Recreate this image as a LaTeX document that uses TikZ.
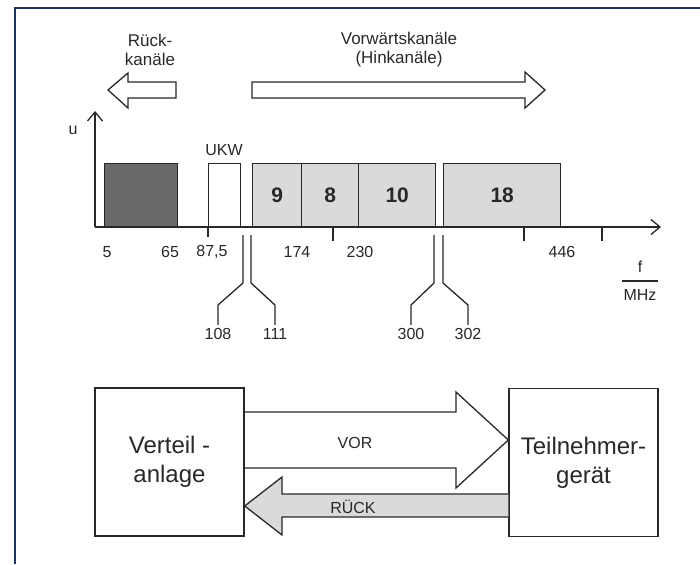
\documentclass[tikz,border=0pt]{standalone}
\usepackage{fontspec}
\setmainfont{Liberation Sans}
\definecolor{rkframe}{RGB}{28,48,105}
\definecolor{rkline}{RGB}{40,40,40}
\definecolor{rkdark}{RGB}{105,105,105}
\definecolor{rklight}{RGB}{218,218,218}
\usetikzlibrary{arrows.meta,positioning,calc}

\begin{document}
\begin{tikzpicture}[x=1pt,y=-1pt,
  every node/.style={text=rkline},
  band/.style={draw=rkline,line width=1.4pt,fill=rklight,minimum height=63pt,anchor=south west,inner sep=0pt,font=\fontsize{21}{24}\selectfont\bfseries},
  num/.style={font=\fontsize{16}{18}\selectfont},
  lead/.style={draw=rkline,line width=1.3pt},
  axis/.style={draw=rkline,line width=1.3pt,-{Straight Barb[length=9pt,width=15pt]}},
  fat/.style={draw=rkline,line width=1.3pt,line join=miter},
  box/.style={draw=rkline,line width=1.4pt,minimum width=149pt,minimum height=148pt,align=center,font=\fontsize{24}{29}\selectfont}]
  \useasboundingbox (0,0) rectangle (700,564);
  \draw[rkframe,line width=1.6pt] (15,564) -- (15,8) -- (700,8);
  % channel direction arrows
  \node[align=center,font=\fontsize{17}{19}\selectfont] (rk) at (150,50) {Rück-\\kanäle};
  \node[align=center,font=\fontsize{17}{19}\selectfont] (vk) at (399,50) {Vorwärtskanäle\\(Hinkanäle)};
  \draw[fat] (176,82) -- (128,82) -- (128,73) -- (108,90) -- (128,108) -- (128,98) -- (176,98) -- cycle;
  \draw[fat] (252,82) -- (525,82) -- (525,72) -- (545,90) -- (525,108) -- (525,98) -- (252,98) -- cycle;
  % spectrum
  \coordinate (o) at (95,227);
  \node[band,fill=rkdark,minimum width=73pt] (b0) at (104,227) {};
  \node[band,fill=white,minimum width=32pt] (ukw) at (208,227) {};
  \draw[lead] (ukw.south west) -- (208,237);
  \node[band,minimum width=49pt] (b9) at (252,227) {9};
  \node[band,minimum width=57pt] (b8) at (301,227) {8};
  \node[band,minimum width=77pt] (b10) at (358,227) {10};
  \node[band,minimum width=117pt] (b18) at (443,227) {18};
  \draw[axis] (o) -- (661,227);
  \draw[axis] (o) -- (95,111);
  \node[num] (u) at (73,130) {u};
  \node[num] (ukwl) at (224,150) {UKW};
  \foreach \x in {333,524,602}
    \draw[lead] (\x,227) -- (\x,241);
  % frequencies
  \node[num] (f5) at (107,252) {5};
  \node[num] (f65) at (170,252) {65};
  \node[num] (f87) at (212,252) {87,5};
  \node[num] (f174) at (297,252) {174};
  \node[num] (f230) at (360,252) {230};
  \node[num] (f446) at (562,252) {446};
  \node[num] (fl) at (640,267) {f};
  \node[num,inner sep=1pt] (mhz) at (640,295) {MHz};
  \draw[lead] (mhz.west |- 0,281) -- (mhz.east |- 0,281);
  \node[num] (l108) at (218,334) {108};
  \node[num] (l111) at (275,334) {111};
  \node[num] (l300) at (411,334) {300};
  \node[num] (l302) at (468,334) {302};
  \draw[lead] (243,235) -- (243,283) -- (218,305) -- (l108.north);
  \draw[lead] (251,235) -- (251,283) -- (275,305) -- (l111.north);
  \draw[lead] (434,235) -- (434,283) -- (411,305) -- (l300.north);
  \draw[lead] (443,235) -- (443,283) -- (468,305) -- (l302.north);
  % network
  \node[box] (va) at (169.5,462) {Verteil -\\anlage};
  \node[box] (tn) at (583.5,462.5) {Teilnehmer-\\gerät};
  \draw[fat] (va.east |- 0,412) -- (456,412) -- (456,392) -- (tn.west |- 0,440) -- (456,488) -- (456,468) -- (va.east |- 0,468);
  \draw[fat,fill=rklight] (tn.west |- 0,494) -- (282,494) -- (282,477) -- (va.east |- 0,506) -- (282,535) -- (282,517) -- (tn.west |- 0,517);
  \node[num] (vor) at (355,443) {VOR};
  \node[num] (rueck) at (353,507) {RÜCK};
\end{tikzpicture}
\end{document}
